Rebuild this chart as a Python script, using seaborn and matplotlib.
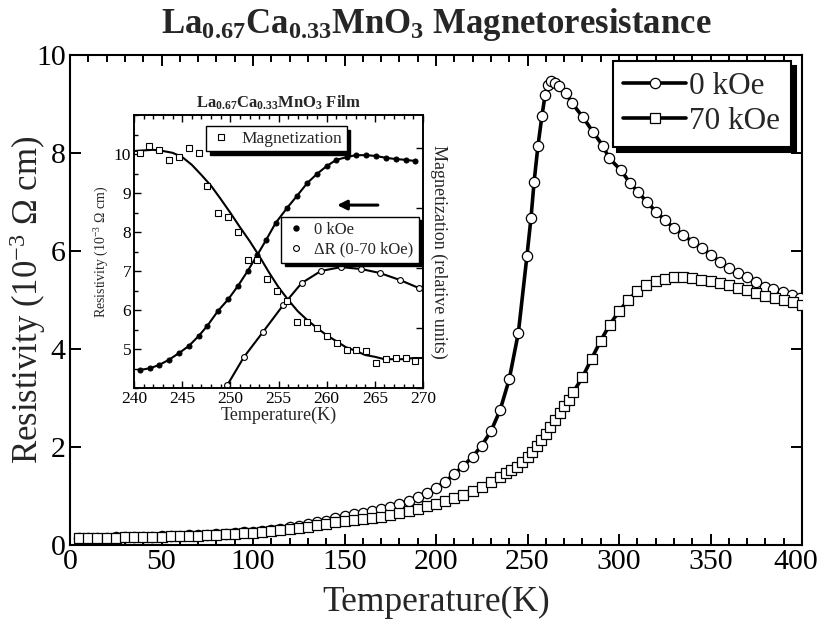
import matplotlib
matplotlib.use('Agg')
import matplotlib.pyplot as plt
import matplotlib.transforms as mtransforms
import seaborn as sns
from matplotlib.ticker import MultipleLocator
from matplotlib.lines import Line2D

# ---------------- data ----------------
T_0k = [5, 10, 15, 20, 25, 30, 35, 40, 45, 50, 55, 60, 65, 70, 75, 80, 85, 90, 95, 100,
        105, 110, 115, 120, 125, 130, 135, 140, 145, 150, 155, 160, 165, 170, 175, 180,
        185, 190, 195, 200, 205, 210, 215, 220, 225, 230, 235, 240, 245,
        249.7, 251.9, 253.6, 255.7, 257.9, 259.6, 261.2, 263, 265, 267.2,
        271, 274.3, 280.3, 285.8, 291.3, 294.5, 301, 306, 310.4, 315.3,
        320.2, 325.1, 330, 335, 340.4, 345.4, 350.3, 355.2, 360, 365,
        370, 375, 380, 384.2, 389.6, 394.5, 398.9]
R_0k = [0.15, 0.15, 0.15, 0.15, 0.16, 0.16, 0.16, 0.17, 0.17, 0.18,
        0.18, 0.19, 0.20, 0.20, 0.21, 0.22, 0.23, 0.24, 0.26, 0.27,
        0.29, 0.31, 0.33, 0.36, 0.39, 0.42, 0.46, 0.50, 0.55, 0.59,
        0.63, 0.66, 0.70, 0.74, 0.78, 0.84, 0.90, 0.98, 1.07, 1.17,
        1.29, 1.45, 1.62, 1.80, 2.03, 2.32, 2.75, 3.38, 4.33,
        5.90, 6.67, 7.41, 8.14, 8.76, 9.18, 9.39, 9.46, 9.43, 9.37,
        9.22, 9.02, 8.73, 8.43, 8.14, 7.90, 7.65, 7.39, 7.20, 7.00,
        6.80, 6.63, 6.47, 6.33, 6.18, 6.06, 5.92, 5.78, 5.65, 5.55,
        5.47, 5.37, 5.27, 5.22, 5.16, 5.10, 5.04]

T_70k = [5, 10, 15, 20, 25, 30, 35, 40, 45, 50, 55, 60, 65, 70, 75, 80, 85, 90, 95, 100,
         105, 110, 115, 120, 125, 130, 135, 140, 145, 150, 155, 160, 165, 170, 175, 180,
         185, 190, 195, 200, 205, 210, 215, 220, 225, 230, 235,
         238, 241, 244, 247, 250, 252.5, 255, 257.5, 260, 262.5, 265, 267.5, 270, 272.5, 275,
         280, 285, 290, 295, 300, 305, 310, 315, 320, 325, 330, 335, 340, 345, 350,
         355, 360, 365, 370, 375, 380, 385, 390, 395, 400]
R_70k = [0.15, 0.15, 0.15, 0.15, 0.15, 0.16, 0.16, 0.16, 0.17, 0.17,
         0.18, 0.18, 0.19, 0.19, 0.20, 0.21, 0.22, 0.23, 0.24, 0.25,
         0.27, 0.28, 0.30, 0.32, 0.34, 0.37, 0.40, 0.43, 0.46, 0.49,
         0.51, 0.53, 0.56, 0.58, 0.61, 0.65, 0.69, 0.73, 0.79, 0.84,
         0.89, 0.96, 1.03, 1.10, 1.18, 1.28, 1.38,
         1.46, 1.53, 1.60, 1.70, 1.80, 1.90, 2.02, 2.14, 2.27, 2.40, 2.56, 2.70, 2.83, 2.95, 3.12,
         3.42, 3.80, 4.17, 4.50, 4.77, 5.00, 5.18, 5.31, 5.38, 5.43, 5.46, 5.46, 5.44, 5.41, 5.38,
         5.35, 5.30, 5.25, 5.20, 5.14, 5.09, 5.04, 5.00, 4.95, 4.90]

# inset: film, 0 kOe resistivity
inset_T_0k = [240.6, 241.7, 242.6, 243.6, 244.7, 245.7, 246.7, 247.6, 248.7, 249.8,
              250.8, 251.8, 252.8, 253.7, 254.7, 255.9, 256.9, 258.0, 259.0, 260.0,
              261.0, 262.1, 263.0, 264.1, 265.1, 266.2, 267.2, 268.2, 269.2]
inset_R_0k = [4.46, 4.51, 4.59, 4.72, 4.90, 5.08, 5.33, 5.59, 5.97, 6.28,
              6.62, 7.00, 7.41, 7.79, 8.23, 8.62, 8.92, 9.26, 9.49, 9.69,
              9.85, 9.92, 9.97, 9.97, 9.95, 9.90, 9.87, 9.85, 9.82]
# inset: Delta R (0-70 kOe)
inset_T_dR = [249.7, 251.4, 253.4, 255.5, 257.4, 259.4, 261.5, 263.6, 265.5, 267.6, 269.6]
inset_dR = [4.08, 4.79, 5.44, 6.13, 6.69, 7.00, 7.10, 7.05, 6.95, 6.77, 6.56]
# inset: magnetization (relative units)
inset_T_mag = [240.6, 241.6, 242.6, 243.6, 244.7, 245.7, 246.7, 247.6, 248.7, 249.8,
               250.8, 251.8, 252.8, 253.8, 254.8, 255.9, 256.9, 258.0, 259.0, 260.0,
               261.1, 262.1, 263.0, 264.1, 265.1, 266.2, 267.2, 268.2, 269.2]
inset_mag = [3.92, 4.03, 3.97, 3.80, 3.85, 4.00, 3.92, 3.37, 2.92, 2.85,
             2.60, 2.13, 2.13, 1.82, 1.62, 1.45, 1.10, 1.10, 1.00, 0.87,
             0.75, 0.63, 0.63, 0.62, 0.42, 0.48, 0.50, 0.50, 0.45]
inset_T_magfit = [240, 241, 242, 243, 244, 245, 246, 247, 248, 249, 250, 251, 252, 253, 254,
                  255, 256, 257, 258, 259, 260, 261, 262, 263, 264, 265, 266, 267, 268, 269, 270]
inset_magfit = [3.95, 3.96, 3.97, 3.95, 3.92, 3.85, 3.72, 3.55, 3.37, 3.15, 2.92, 2.68, 2.45,
                2.20, 1.93, 1.68, 1.47, 1.28, 1.13, 1.00, 0.88, 0.78, 0.68, 0.62, 0.55, 0.52,
                0.48, 0.48, 0.48, 0.50, 0.50]

main_xticks = [0, 50, 100, 150, 200, 250, 300, 350, 400]
main_yticks = [0, 2, 4, 6, 8, 10]
inset_xticks = [240, 245, 250, 255, 260, 265, 270]
inset_yticks = [5, 6, 7, 8, 9, 10]

# ---------------- style ----------------
sns.set_theme(style='ticks')
plt.rcParams['font.family'] = ['Liberation Serif', 'DejaVu Serif']
plt.rcParams['mathtext.fontset'] = 'custom'
plt.rcParams['mathtext.rm'] = 'Liberation Serif'
plt.rcParams['mathtext.it'] = 'Liberation Serif:italic'
plt.rcParams['mathtext.bf'] = 'Liberation Serif:bold'
plt.rcParams['mathtext.default'] = 'regular'
plt.rcParams['axes.linewidth'] = 1.5
plt.rcParams['axes.edgecolor'] = 'black'

W, H = 822, 627
fig = plt.figure(figsize=(W / 100, H / 100), dpi=100)
fig.patch.set_facecolor('white')

ax = fig.add_axes([70 / W, 1 - 545 / H, (802 - 70) / W, (545 - 55) / H])
ax.set_facecolor('white')

MS = 7.4
sns.lineplot(x=T_0k, y=R_0k, ax=ax, sort=False, estimator=None, color='black',
             lw=2.6, marker='o', markersize=MS, markerfacecolor='white',
             markeredgecolor='black', markeredgewidth=0.9, zorder=3)
sns.lineplot(x=T_70k, y=R_70k, ax=ax, sort=False, estimator=None, color='black',
             lw=2.6, marker='s', markersize=MS, markerfacecolor='white',
             markeredgecolor='black', markeredgewidth=0.9, zorder=4)

ax.set_xlim(0, 400)
ax.set_ylim(0, 10)
ax.set_xticks(main_xticks)
ax.set_yticks(main_yticks)
ax.xaxis.set_minor_locator(MultipleLocator(10))
ax.tick_params(which='both', direction='in', top=True, right=True, width=1.4,
               colors='black', labelsize=21.5)
ax.tick_params(which='major', length=8, pad=3)
ax.tick_params(which='minor', length=5)
ax.set_xlabel('Temperature(K)', fontsize=25.5, labelpad=8)
ax.set_ylabel('Resistivity (10$^{-3}$ Ω cm)', fontsize=25)
ax.yaxis.set_label_coords(-0.03, 0.5)
ax.set_title('La$_{0.67}$Ca$_{0.33}$MnO$_{3}$ Magnetoresistance', fontsize=25,
             fontweight='bold', pad=16)

# keep the last x tick label inside the canvas
last = ax.get_xticklabels()[-1]
last.set_transform(last.get_transform() +
                   mtransforms.ScaledTranslation(-6 / 100, 0, fig.dpi_scale_trans))

h0 = Line2D([], [], color='black', lw=2.6, marker='o', markersize=MS,
            markerfacecolor='white', markeredgecolor='black', markeredgewidth=0.9)
h70 = Line2D([], [], color='black', lw=2.6, marker='s', markersize=MS,
             markerfacecolor='white', markeredgecolor='black', markeredgewidth=0.9)
leg = ax.legend([h0, h70], ['0 kOe', '70 kOe'], loc='upper right',
                bbox_to_anchor=(0.985, 0.988), fontsize=22.5, frameon=True, fancybox=False,
                edgecolor='black', framealpha=1, handlelength=2.0, handletextpad=0.1,
                borderpad=0.35, labelspacing=0.2, borderaxespad=0.0,
                shadow={'ox': 3.5, 'oy': -3.5, 'facecolor': 'black',
                        'edgecolor': 'black', 'alpha': 1})
leg.get_frame().set_linewidth(1.5)

# ---------------- inset ----------------
ax_in = fig.add_axes([134 / W, 1 - 388 / H, (423 - 134) / W, (388 - 115) / H])
ax_in.set_facecolor('white')
ax_in.set_zorder(5)

sns.lineplot(x=inset_T_0k, y=inset_R_0k, ax=ax_in, sort=False, estimator=None,
             color='black', lw=1.5, marker='o', markersize=3.6,
             markerfacecolor='black', markeredgecolor='black', zorder=3)
sns.lineplot(x=inset_T_dR, y=inset_dR, ax=ax_in, sort=False, estimator=None,
             color='black', lw=1.5, marker='o', markersize=4.2,
             markerfacecolor='white', markeredgecolor='black', markeredgewidth=0.8, zorder=3)
ax_in.set_xlim(240, 270)
ax_in.set_ylim(4, 11)
ax_in.set_xticks(inset_xticks)
ax_in.set_yticks(inset_yticks)
ax_in.xaxis.set_minor_locator(MultipleLocator(1))
ax_in.yaxis.set_minor_locator(MultipleLocator(0.5))
ax_in.tick_params(which='both', direction='in', top=True, right=False, width=1.0,
                  colors='black', labelsize=12.5, pad=2)
ax_in.tick_params(which='major', length=5)
ax_in.tick_params(which='minor', length=3)
ax_in.set_xlabel('Temperature(K)', fontsize=13, labelpad=0)
ax_in.set_ylabel('Resistivity (10$^{-3}$ Ω cm)', fontsize=10, labelpad=2)
ax_in.set_title('La$_{0.67}$Ca$_{0.33}$MnO$_{3}$ Film', fontsize=12, fontweight='bold', pad=5)

ax_m = ax_in.twinx()
sns.lineplot(x=inset_T_magfit, y=inset_magfit, ax=ax_m, sort=False, estimator=None,
             color='black', lw=1.5, zorder=2)
sns.lineplot(x=inset_T_mag, y=inset_mag, ax=ax_m, sort=False, estimator=None,
             color='black', lw=0, marker='s', markersize=5,
             markerfacecolor='white', markeredgecolor='black', markeredgewidth=0.8, zorder=3)
ax_m.set_ylim(0, 4.55)
ax_m.set_yticks([0, 1, 2, 3, 4])
ax_m.set_yticklabels([])
ax_m.tick_params(which='both', direction='in', right=True, width=1.0, length=5, colors='black')
ax_m.set_ylabel('Magnetization (relative units)', fontsize=13, rotation=270, labelpad=14)

ax_in.annotate('', xy=(260.8, 8.69), xytext=(265.6, 8.69),
               arrowprops=dict(arrowstyle='-|>', lw=2.2, color='black',
                               mutation_scale=14))

hm = Line2D([], [], lw=0, marker='s', markersize=5, markerfacecolor='white',
            markeredgecolor='black', markeredgewidth=0.8)
legm = ax_m.legend([hm], ['Magnetization'], loc='upper left', bbox_to_anchor=(0.25, 0.958),
                   fontsize=12.5, frameon=True, fancybox=False, edgecolor='black',
                   framealpha=1, handlelength=1.2, handletextpad=0.6, borderpad=0.25,
                   borderaxespad=0.0,
                   shadow={'ox': 2.5, 'oy': -2.5, 'facecolor': 'black',
                           'edgecolor': 'black', 'alpha': 1})
legm.get_frame().set_linewidth(1.0)

hf = Line2D([], [], lw=0, marker='o', markersize=3.6, markerfacecolor='black',
            markeredgecolor='black')
ho = Line2D([], [], lw=0, marker='o', markersize=4.2, markerfacecolor='white',
            markeredgecolor='black', markeredgewidth=0.8)
legr = ax_in.legend([hf, ho], ['0 kOe', 'ΔR (0-70 kOe)'], loc='upper right',
                    bbox_to_anchor=(0.985, 0.628), fontsize=12, frameon=True, fancybox=False,
                    edgecolor='black', framealpha=1, handlelength=1.2, handletextpad=0.5,
                    borderpad=0.3, labelspacing=0.25, borderaxespad=0.0,
                    shadow={'ox': 2.5, 'oy': -2.5, 'facecolor': 'black',
                            'edgecolor': 'black', 'alpha': 1})
legr.get_frame().set_linewidth(1.0)

for a in (ax, ax_in, ax_m):
    for s in a.spines.values():
        s.set_visible(True)
        s.set_color('black')
for s in ax_in.spines.values():
    s.set_linewidth(1.2)
for s in ax_m.spines.values():
    s.set_linewidth(1.2)

fig.savefig('out.png', dpi=100, facecolor='white')
